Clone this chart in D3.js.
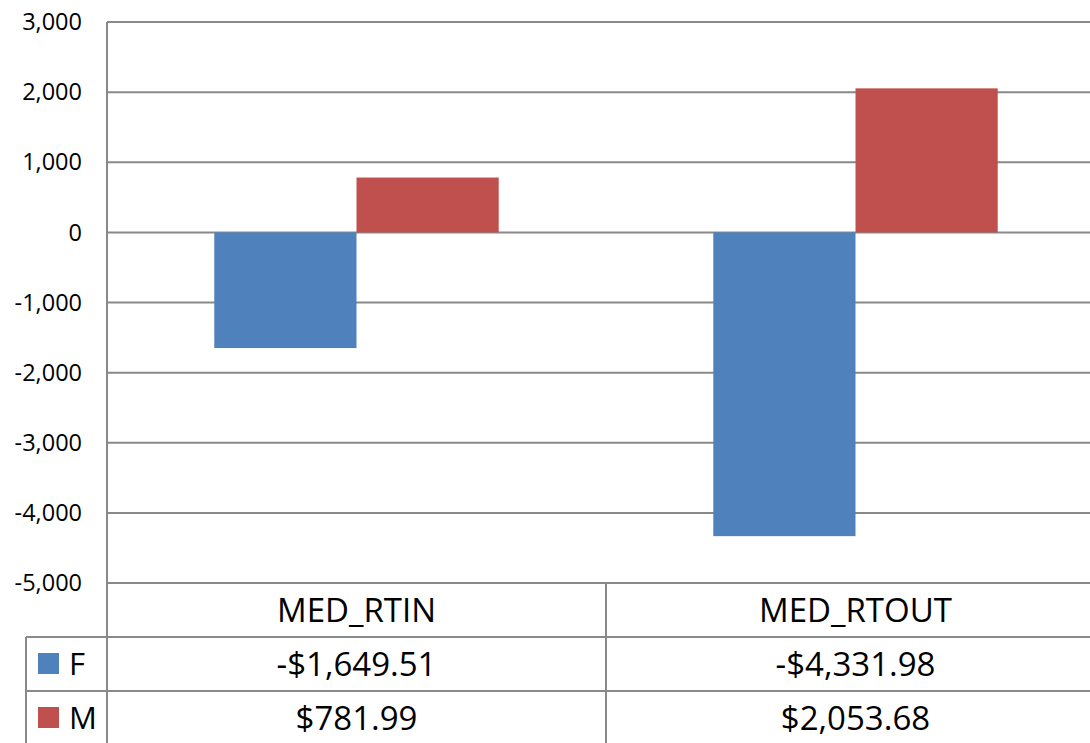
<!DOCTYPE html>
<html>
<head>
<meta charset="utf-8">
<script src="https://cdn.jsdelivr.net/npm/d3@7"></script>
<style>
  html, body { margin: 0; padding: 0; background: #fff; overflow: hidden; }
  svg { display: block; font-family: "Open Sans", "Noto Sans", sans-serif; }
</style>
</head>
<body>
<div id="chart"></div>
<script>
// chart data
var categories = ["MED_RTIN", "MED_RTOUT"];
var seriesNames = ["F", "M"];
var valuesF = [-1649.51, -4331.98];
var valuesM = [781.99, 2053.68];
var yTicks = [3000, 2000, 1000, 0, -1000, -2000, -3000, -4000, -5000];
var seriesColors = ["#4F81BD", "#C0504D"];

var width = 1090, height = 743;
var plotLeft = 107, plotRight = 1105, plotTop = 22, plotBottom = 583;
var rowH = 54;
var legendLeft = 26;
var gridColor = "#898989";

var svg = d3.select("#chart").append("svg")
    .attr("width", width)
    .attr("height", height);

var y = d3.scaleLinear()
    .domain([-5000, 3000])
    .range([plotBottom, plotTop]);

var x0 = d3.scaleBand()
    .domain(categories)
    .range([plotLeft, plotRight])
    .paddingInner(0.43)
    .paddingOuter(0.215);

var x1 = d3.scaleBand()
    .domain(seriesNames)
    .range([0, x0.bandwidth()]);

// the table columns (full category width, no padding)
var xCol = d3.scaleBand()
    .domain(categories)
    .range([plotLeft, plotRight]);

// gridlines
svg.append("g")
    .selectAll("line")
    .data(yTicks)
    .enter()
    .append("line")
    .attr("x1", plotLeft)
    .attr("x2", plotRight)
    .attr("y1", function (d) { return y(d); })
    .attr("y2", function (d) { return y(d); })
    .attr("stroke", gridColor)
    .attr("stroke-width", 2);

// y labels
svg.append("g")
    .selectAll("text")
    .data(yTicks)
    .enter()
    .append("text")
    .attr("x", 82)
    .attr("y", function (d) { return y(d); })
    .attr("dy", "0.35em")
    .attr("text-anchor", "end")
    .attr("font-size", "23.5px")
    .attr("fill", "#000")
    .text(function (d) { return d3.format(",")(d).replace("−", "-"); });

// bars
var series = [valuesF, valuesM];
var barData = [];
for (var i = 0; i < categories.length; i++) {
    for (var s = 0; s < seriesNames.length; s++) {
        barData.push({ cat: categories[i], name: seriesNames[s], value: series[s][i], color: seriesColors[s] });
    }
}

svg.append("g")
    .selectAll("rect")
    .data(barData)
    .enter()
    .append("rect")
    .attr("x", function (d) { return x0(d.cat) + x1(d.name); })
    .attr("width", x1.bandwidth())
    .attr("y", function (d) { return y(Math.max(0, d.value)); })
    .attr("height", function (d) { return Math.abs(y(d.value) - y(0)); })
    .attr("fill", function (d) { return d.color; });

// data table lines
var tbl = svg.append("g").attr("stroke", gridColor).attr("stroke-width", 2);
// vertical axis line runs down through the table
tbl.append("line").attr("x1", plotLeft).attr("x2", plotLeft).attr("y1", plotTop).attr("y2", height + 5);
// column dividers
categories.forEach(function (c) {
    var xr = xCol(c) + xCol.bandwidth();
    tbl.append("line").attr("x1", xr).attr("x2", xr).attr("y1", plotBottom).attr("y2", height + 5);
});
// legend column left edge
tbl.append("line").attr("x1", legendLeft).attr("x2", legendLeft)
    .attr("y1", plotBottom + rowH).attr("y2", height + 5);
// row separators
[1, 2].forEach(function (r) {
    var yy = plotBottom + r * rowH;
    tbl.append("line").attr("x1", legendLeft).attr("x2", plotRight).attr("y1", yy).attr("y2", yy);
});

// header row
svg.append("g")
    .selectAll("text")
    .data(categories)
    .enter()
    .append("text")
    .attr("x", function (d) { return xCol(d) + xCol.bandwidth() / 2; })
    .attr("y", plotBottom + rowH / 2)
    .attr("dy", "0.36em")
    .attr("text-anchor", "middle")
    .attr("font-size", "33px")
    .text(function (d) { return d; });

// value rows
var fmt = function (v) {
    var s = d3.format(",.2f")(Math.abs(v));
    return (v < 0 ? "-$" : "$") + s;
};
seriesNames.forEach(function (name, s) {
    var rowY = plotBottom + (s + 1) * rowH + rowH / 2;
    var g = svg.append("g");
    g.selectAll("text")
        .data(series[s])
        .enter()
        .append("text")
        .attr("x", function (d, i) { return xCol(categories[i]) + xCol.bandwidth() / 2; })
        .attr("y", rowY)
        .attr("dy", "0.36em")
        .attr("text-anchor", "middle")
        .attr("font-size", "33px")
        .text(function (d) { return fmt(d); });
    // legend key
    g.append("rect")
        .attr("x", 38)
        .attr("y", rowY - 11)
        .attr("width", 21)
        .attr("height", 21)
        .attr("fill", seriesColors[s]);
    g.append("text")
        .attr("x", 69)
        .attr("y", rowY)
        .attr("dy", "0.36em")
        .attr("font-size", "31px")
        .text(name);
});
</script>
</body>
</html>
